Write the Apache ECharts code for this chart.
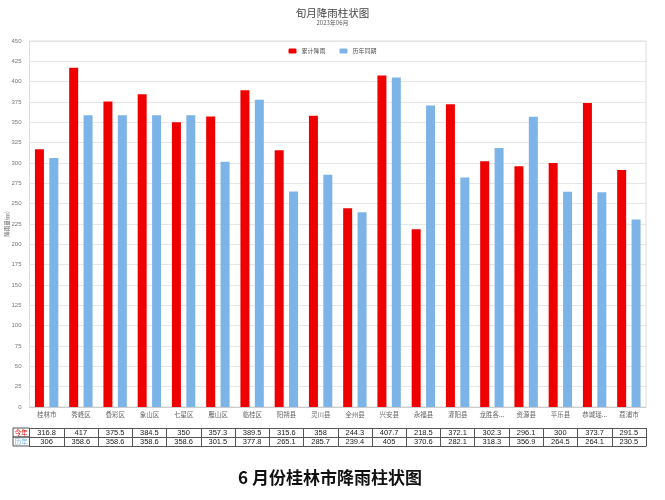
<!DOCTYPE html>
<html><head><meta charset="utf-8">
<script src="https://cdn.jsdelivr.net/npm/echarts@6/dist/echarts.min.js"></script>
<style>html,body{margin:0;padding:0;background:#fff}#c{width:665px;height:500px}</style>
</head><body><div id="c"></div>
<script>
var categories = ['桂林市','秀峰区','叠彩区','象山区','七星区','雁山区','临桂区','阳朔县','灵川县','全州县','兴安县','永福县','灌阳县','龙胜各族自治县','资源县','平乐县','恭城瑶族自治县','荔浦市'];
var rainThisYear = [316.8,417,375.5,384.5,350,357.3,389.5,315.6,358,244.3,407.7,218.5,372.1,302.3,296.1,300,373.7,291.5];
var rainHistory = [306,358.6,358.6,358.6,358.6,301.5,377.8,265.1,285.7,239.4,405,370.6,282.1,318.3,356.9,264.5,264.1,230.5];
var yTicks = {min:0, max:450, interval:25};
var seriesNames = ['累计降雨','历年同期'];
var rowLabels = ['今年','历年'];

var RED = '#ee0000', BLUE = '#7db4e8';
var chart = echarts.init(document.getElementById('c'), null, {renderer:'canvas'});
var tableAxis = function(data, offset, ticks, showLabel){
  return {
    type:'category', data:data, position:'bottom', offset:offset, gridIndex:0,
    axisLine:{show:true, lineStyle:{color:'#555', width:1}},
    axisTick:{show:ticks, interval:0, length:9, lineStyle:{color:'#555'}},
    axisLabel:{show:showLabel, interval:0, fontSize:7.5, color:'#222', margin:1, fontFamily:'Liberation Sans, Arial'},
    splitLine:{show:false}
  };
};
chart.setOption({
  animation:false,
  title:{text:'旬月降雨柱状图', subtext:'2023年06月', left:'center', top:3, itemGap:1,
    textStyle:{fontSize:10.5, color:'#444', fontWeight:'normal', fontFamily:'Noto Sans CJK SC'},
    subtextStyle:{fontSize:6, color:'#555', fontFamily:'Noto Sans CJK SC'}},
  legend:{data:seriesNames, top:43, left:'center', itemWidth:8, itemHeight:5, itemGap:14,
    textStyle:{fontSize:6, color:'#555', fontFamily:'Noto Sans CJK SC'}},
  grid:{left:29.5, right:19, top:41, bottom:93, show:true, borderColor:'#ddd', borderWidth:1, containLabel:false, outerBoundsMode:'none'},
  xAxis:[
    {type:'category', data:categories,
      axisLine:{lineStyle:{color:'#ccc'}}, axisTick:{show:false},
      axisLabel:{interval:0, fontSize:6.5, color:'#666', margin:4, width:30, overflow:'truncate', ellipsis:'...', fontFamily:'Noto Sans CJK SC'}},
    tableAxis(rainThisYear.map(String), 21, true, true),
    tableAxis(rainHistory.map(String), 30, true, true),
    tableAxis(categories.map(function(){return '';}), 39, false, false)
  ],
  yAxis:{type:'value', min:yTicks.min, max:yTicks.max, interval:yTicks.interval,
    name:'降雨量(㎜)', nameLocation:'middle', nameGap:20, nameRotate:90, nameMoveOverlap:false,
    nameTextStyle:{fontSize:5.5, color:'#666', fontFamily:'Noto Sans CJK SC'},
    axisLine:{show:false}, axisTick:{show:false},
    axisLabel:{fontSize:6, color:'#777', margin:8},
    splitLine:{lineStyle:{color:'#e6e6e6'}}},
  series:[
    {name:seriesNames[0], type:'bar', data:rainThisYear, barWidth:9, barGap:'60%', itemStyle:{color:RED}},
    {name:seriesNames[1], type:'bar', data:rainHistory, barWidth:9, itemStyle:{color:BLUE}}
  ],
  graphic:[
    {type:'rect', shape:{x:13, y:428, width:16.5, height:9}, style:{fill:'none', stroke:'#555', lineWidth:1}},
    {type:'rect', shape:{x:13, y:437, width:16.5, height:9}, style:{fill:'none', stroke:'#555', lineWidth:1}},
    {type:'text', x:21.25, y:432.5, style:{text:rowLabels[0], fill:RED, fontSize:6.5, align:'center', verticalAlign:'middle', fontFamily:'Noto Sans CJK SC'}},
    {type:'text', x:21.25, y:441.5, style:{text:rowLabels[1], fill:BLUE, fontSize:6.5, align:'center', verticalAlign:'middle', fontFamily:'Noto Sans CJK SC'}},
    {type:'text', x:330, y:478, style:{text:'6 月份桂林市降雨柱状图', fill:'#111', fontSize:17, fontWeight:'bold', align:'center', verticalAlign:'middle', fontFamily:'Noto Sans CJK SC'}}
  ]
});
</script></body></html>
